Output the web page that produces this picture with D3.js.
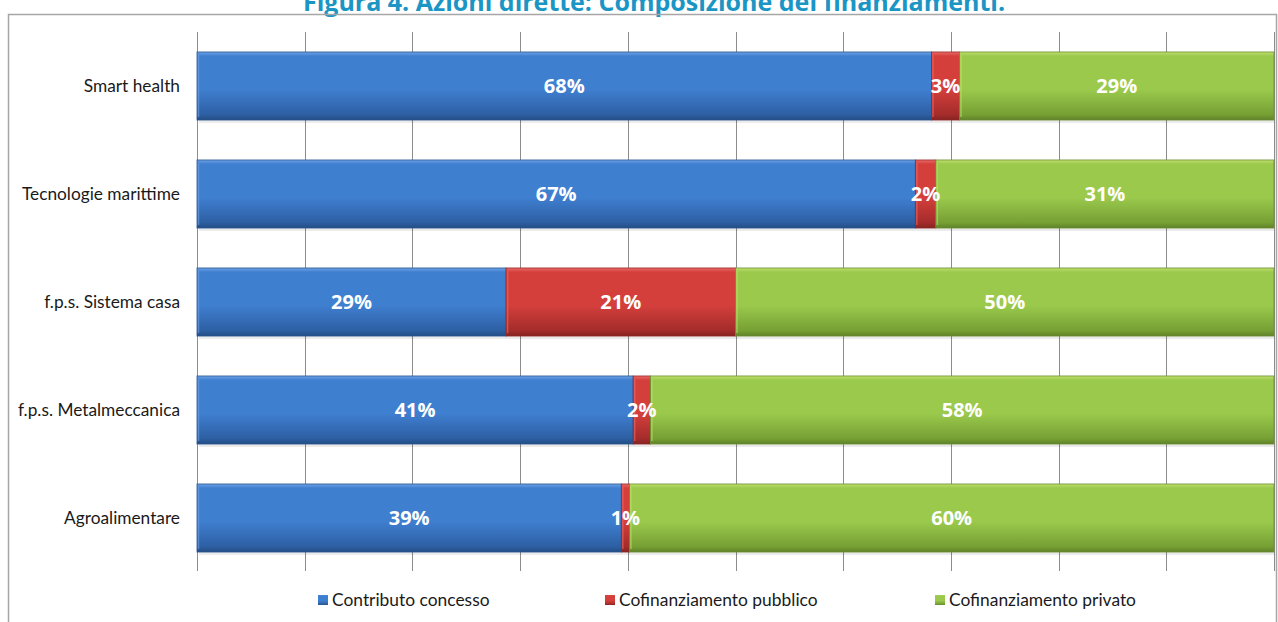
<!DOCTYPE html>
<html>
<head>
<meta charset="utf-8">
<script src="https://cdn.jsdelivr.net/npm/d3@7/dist/d3.min.js"></script>
<style>
  html, body { margin: 0; padding: 0; background: #fff; }
  svg { display: block; }
</style>
</head>
<body>
<svg id="chart" width="1278" height="622"></svg>
<script>
// data (shares in %, labels as printed)
const categories = ['Smart health', 'Tecnologie marittime', 'f.p.s. Sistema casa', 'f.p.s. Metalmeccanica', 'Agroalimentare']
const series = ['Contributo concesso', 'Cofinanziamento pubblico', 'Cofinanziamento privato']
const contributo = [68.2, 66.7, 28.7, 40.5, 39.4]
const pubblico   = [2.6, 1.9, 21.3, 1.6, 0.75]
const privato    = [29.2, 31.4, 50.0, 57.9, 59.85]
const labels = [
  ['68%', '3%', '29%'],
  ['67%', '2%', '31%'],
  ['29%', '21%', '50%'],
  ['41%', '2%', '58%'],
  ['39%', '1%', '60%']
]
const ticks = d3.range(0, 101, 10)

const COLORS = {
  'Contributo concesso':      ['#6ea3e6', '#3f7fd0', '#2d5fa3'],
  'Cofinanziamento pubblico': ['#ec6b68', '#d43f3c', '#a42c2a'],
  'Cofinanziamento privato':  ['#c0e06e', '#9bc94c', '#76a034']
}

const svg = d3.select('#chart')
const defs = svg.append('defs')

series.forEach((s, i) => {
  let c = COLORS[s]
  let g = defs.append('linearGradient').attr('id', 'grad' + i)
    .attr('x1', 0).attr('y1', 0).attr('x2', 0).attr('y2', 1)
  g.append('stop').attr('offset', '0%').attr('stop-color', c[0])
  g.append('stop').attr('offset', '6%').attr('stop-color', c[1])
  g.append('stop').attr('offset', '55%').attr('stop-color', c[1])
  g.append('stop').attr('offset', '92%').attr('stop-color', c[2])
  g.append('stop').attr('offset', '100%').attr('stop-color', d3.color(c[2]).darker(0.6))
})

// title (cut off at the top in the original)
svg.append('text')
  .attr('x', 654).attr('y', 11)
  .attr('text-anchor', 'middle')
  .attr('font-family', '"Open Sans", sans-serif')
  .attr('font-weight', 'bold')
  .attr('font-size', 25)
  .attr('fill', '#1a95c4')
  .text('Figura 4. Azioni dirette: Composizione dei finanziamenti.')

// outer frame
svg.append('rect')
  .attr('x', 8.5).attr('y', 14.5).attr('width', 1268).attr('height', 700)
  .attr('fill', 'none').attr('stroke', '#a6a6a6').attr('stroke-width', 1.5)

const x = d3.scaleLinear().domain([0, 100]).range([197, 1274])
const y = d3.scaleBand().domain(categories).range([32, 572]).paddingInner(0.37).paddingOuter(0.185)

// vertical grid
svg.append('g')
  .selectAll('line').data(ticks).join('line')
  .attr('x1', (d) => Math.round(x(d)) + 0.5).attr('x2', (d) => Math.round(x(d)) + 0.5)
  .attr('y1', 32).attr('y2', 571)
  .attr('stroke', '#8c8c8c').attr('stroke-width', 1)

// stacked bars
const rows = categories.map((c, i) => ({ name: c, 'Contributo concesso': contributo[i], 'Cofinanziamento pubblico': pubblico[i], 'Cofinanziamento privato': privato[i] }))
const stacked = d3.stack().keys(series)(rows)

// soft shadow under each bar
svg.append('g')
  .selectAll('rect').data(rows).join('rect')
  .attr('x', x(0) + 2).attr('y', (d) => y(d.name) + y.bandwidth())
  .attr('width', x(100) - x(0) - 2).attr('height', 3)
  .attr('fill', '#000').attr('opacity', 0.08)

stacked.forEach((layer, si) => {
  let g = svg.append('g')
  g.selectAll('rect').data(layer).join('rect')
    .attr('x', (d) => x(d[0]))
    .attr('y', (d) => y(d.data.name))
    .attr('width', (d) => x(d[1]) - x(d[0]))
    .attr('height', y.bandwidth())
    .attr('fill', 'url(#grad' + si + ')')
    .attr('stroke', d3.color(COLORS[layer.key][2]).darker(0.3))
    .attr('stroke-width', 0.8)
  // bevel highlight on the left edge
  g.selectAll('line').data(layer).join('line')
    .attr('x1', (d) => x(d[0]) + 1.5).attr('x2', (d) => x(d[0]) + 1.5)
    .attr('y1', (d) => y(d.data.name) + 3).attr('y2', (d) => y(d.data.name) + y.bandwidth() - 3)
    .attr('stroke', COLORS[layer.key][0]).attr('stroke-opacity', 0.6).attr('stroke-width', 1.5)
})

// value labels
stacked.forEach((layer, si) => {
  svg.append('g')
    .attr('font-family', '"Open Sans", sans-serif')
    .attr('font-weight', 'bold')
    .attr('font-size', 20)
    .attr('fill', '#fff')
    .attr('text-anchor', 'middle')
    .selectAll('text').data(layer).join('text')
    .attr('x', (d) => (x(d[0]) + x(d[1])) / 2)
    .attr('y', (d) => y(d.data.name) + y.bandwidth() / 2)
    .attr('dy', '0.36em')
    .text((d, i) => labels[i][si])
})

// category labels
svg.append('g')
  .attr('font-family', 'Lato, sans-serif')
  .attr('font-size', 17.3)
  .attr('fill', '#1a1a1a')
  .attr('text-anchor', 'end')
  .selectAll('text').data(categories).join('text')
  .attr('x', 180)
  .attr('y', (d) => y(d) + y.bandwidth() / 2)
  .attr('dy', '0.35em')
  .text((d) => d)

// legend
const legendX = [318, 605, 935]
const legend = svg.append('g')
  .selectAll('g').data(series).join('g')
  .attr('transform', (d, i) => 'translate(' + legendX[i] + ',600)')
legend.append('rect')
  .attr('x', 0).attr('y', -5).attr('width', 10).attr('height', 10)
  .attr('fill', (d, i) => 'url(#grad' + i + ')')
legend.append('text')
  .attr('x', 14).attr('dy', '0.35em')
  .attr('font-family', 'Lato, sans-serif')
  .attr('font-size', 17.4)
  .attr('fill', '#1a1a1a')
  .text((d) => d)
</script>
</body>
</html>
